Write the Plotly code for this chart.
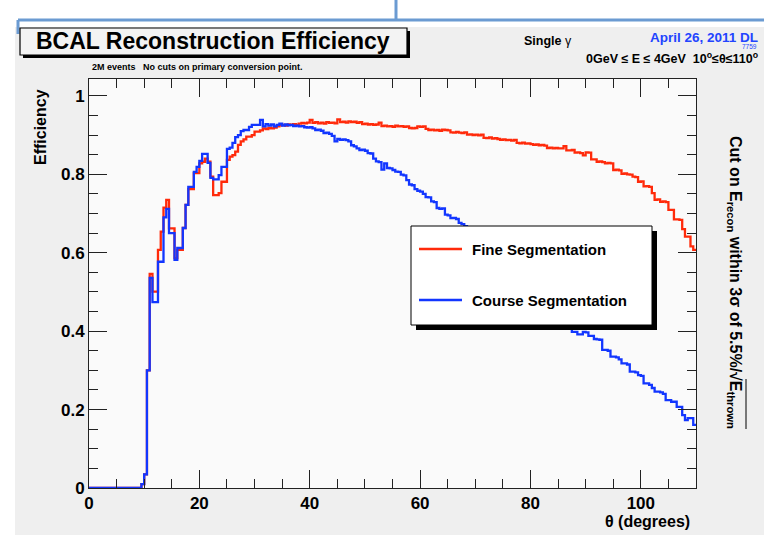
import plotly.graph_objects as go

# ---------------- data (efficiency per 0.5 degree theta bin, 0..110 deg) ----------------
bin_width = 0.5
fine_eff = [
    0, 0, 0, 0, 0, 0, 0, 0, 0, 0,
    0, 0, 0, 0, 0, 0, 0, 0, 0, 0.01,
    0.035, 0.30, 0.546, 0.501, 0.501, 0.607, 0.654, 0.715, 0.735, 0.662,
    0.662, 0.586, 0.607, 0.607, 0.663, 0.722, 0.762, 0.762, 0.803, 0.803,
    0.828, 0.832, 0.840, 0.832, 0.794, 0.747, 0.747, 0.752, 0.781, 0.781,
    0.837, 0.845, 0.849, 0.858, 0.875, 0.884, 0.889, 0.896, 0.896, 0.900,
    0.909, 0.909, 0.912, 0.917, 0.915, 0.918, 0.917, 0.919, 0.922, 0.925,
    0.926, 0.924, 0.927, 0.926, 0.928, 0.926, 0.929, 0.931, 0.930, 0.932,
    0.939, 0.931, 0.933, 0.930, 0.932, 0.929, 0.933, 0.931, 0.932, 0.930,
    0.940, 0.933, 0.934, 0.932, 0.935, 0.933, 0.934, 0.931, 0.933, 0.928,
    0.929, 0.927, 0.928, 0.926, 0.927, 0.932, 0.923, 0.924, 0.922, 0.923,
    0.921, 0.924, 0.922, 0.923, 0.921, 0.922, 0.918, 0.917, 0.918, 0.922,
    0.921, 0.922, 0.916, 0.913, 0.914, 0.912, 0.913, 0.911, 0.914, 0.913,
    0.912, 0.907, 0.906, 0.908, 0.906, 0.905, 0.907, 0.901, 0.902, 0.900,
    0.901, 0.899, 0.901, 0.893, 0.892, 0.894, 0.891, 0.892, 0.890, 0.888,
    0.889, 0.887, 0.888, 0.886, 0.888, 0.880, 0.879, 0.881, 0.878, 0.879,
    0.877, 0.875, 0.876, 0.874, 0.875, 0.873, 0.867, 0.868, 0.866, 0.867,
    0.866, 0.866, 0.872, 0.861, 0.861, 0.862, 0.855, 0.856, 0.854, 0.848,
    0.856, 0.855, 0.838, 0.838, 0.832, 0.833, 0.831, 0.828, 0.829, 0.828,
    0.811, 0.812, 0.810, 0.801, 0.802, 0.800, 0.799, 0.794, 0.793, 0.781,
    0.782, 0.769, 0.770, 0.768, 0.752, 0.735, 0.736, 0.730, 0.731, 0.729,
    0.709, 0.709, 0.685, 0.685, 0.684, 0.660, 0.641, 0.641, 0.616, 0.607,
]
course_eff = [
    0, 0, 0, 0, 0, 0, 0, 0, 0, 0,
    0, 0, 0, 0, 0, 0, 0, 0, 0, 0.01,
    0.035, 0.30, 0.536, 0.474, 0.474, 0.577, 0.577, 0.690, 0.712, 0.650,
    0.650, 0.582, 0.612, 0.612, 0.663, 0.722, 0.768, 0.768, 0.806, 0.819,
    0.834, 0.852, 0.852, 0.829, 0.791, 0.787, 0.787, 0.798, 0.819, 0.819,
    0.865, 0.868, 0.880, 0.895, 0.900, 0.910, 0.913, 0.913, 0.921, 0.926,
    0.926, 0.926, 0.939, 0.922, 0.928, 0.924, 0.927, 0.922, 0.926, 0.929,
    0.924, 0.927, 0.925, 0.926, 0.923, 0.924, 0.922, 0.923, 0.920, 0.919,
    0.920, 0.917, 0.913, 0.914, 0.911, 0.905, 0.906, 0.903, 0.898, 0.884,
    0.890, 0.888, 0.889, 0.887, 0.884, 0.874, 0.871, 0.866, 0.862, 0.863,
    0.860, 0.854, 0.853, 0.840, 0.833, 0.831, 0.812, 0.828, 0.816, 0.815,
    0.811, 0.807, 0.806, 0.799, 0.797, 0.785, 0.774, 0.772, 0.762, 0.758,
    0.756, 0.750, 0.742, 0.741, 0.731, 0.729, 0.714, 0.712, 0.713, 0.697,
    0.695, 0.688, 0.689, 0.686, 0.676, 0.673, 0.668, 0.663, 0.655, 0.651,
    0.642, 0.637, 0.630, 0.622, 0.617, 0.609, 0.603, 0.596, 0.590, 0.582,
    0.577, 0.569, 0.563, 0.556, 0.549, 0.543, 0.536, 0.530, 0.522, 0.516,
    0.509, 0.503, 0.496, 0.489, 0.483, 0.476, 0.469, 0.463, 0.456, 0.449,
    0.443, 0.436, 0.429, 0.423, 0.412, 0.398, 0.398, 0.392, 0.392, 0.398,
    0.397, 0.388, 0.388, 0.380, 0.379, 0.378, 0.352, 0.352, 0.350, 0.335,
    0.335, 0.333, 0.328, 0.318, 0.318, 0.315, 0.297, 0.297, 0.295, 0.288,
    0.286, 0.267, 0.267, 0.263, 0.255, 0.246, 0.246, 0.244, 0.240, 0.224,
    0.224, 0.220, 0.220, 0.207, 0.207, 0.186, 0.173, 0.178, 0.178, 0.161,
]
series_names = ["Fine Segmentation", "Course Segmentation"]
x_tick_vals = [0, 20, 40, 60, 80, 100]
x_tick_text = ["0", "20", "40", "60", "80", "100"]
y_tick_vals = [0, 0.2, 0.4, 0.6, 0.8, 1.0]
y_tick_text = ["0", "0.2", "0.4", "0.6", "0.8", "1"]

RED = "#ff2a0a"
BLUE = "#1236ff"
FONT = "Liberation Sans"

# ---------------- geometry helpers (pixel -> paper) ----------------
W, H = 764, 535
L, R, T, B = 89, 696, 79, 488


def px(xp):
    return (xp - L) / (R - L)


def py(yp):
    return (B - yp) / (B - T)


def step_xy(vals):
    xs = [i * bin_width for i in range(len(vals) + 1)]
    ys = list(vals) + [vals[-1]]
    return xs, ys


fig = go.Figure()
for vals, color, name in [(fine_eff, RED, series_names[0]), (course_eff, BLUE, series_names[1])]:
    xs, ys = step_xy(vals)
    fig.add_trace(go.Scatter(x=xs, y=ys, mode="lines", line=dict(shape="hv", color=color, width=2.3),
                             name=name, showlegend=False, hoverinfo="skip"))

axis_common = dict(
    showline=True, linecolor="#222222", linewidth=1, mirror="ticks",
    ticks="inside", ticklen=18, tickwidth=1, tickcolor="#222222",
    showgrid=False, zeroline=False,
    tickfont=dict(family=FONT, size=17, color="black", weight="bold"),
)
fig.update_xaxes(range=[0, 110], tickvals=x_tick_vals, ticktext=x_tick_text,
                 minor=dict(dtick=5, ticks="inside", ticklen=9, tickcolor="#222222", showgrid=False),
                 **axis_common)
fig.update_yaxes(range=[0, 1.043], tickvals=y_tick_vals, ticktext=y_tick_text,
                 minor=dict(dtick=0.05, ticks="inside", ticklen=9, tickcolor="#222222", showgrid=False),
                 **axis_common)

shapes = []


def rect(x0, y0, x1, y1, fill, line_color=None, lw=0, layer="above"):
    shapes.append(dict(type="rect", xref="paper", yref="paper", x0=px(x0), x1=px(x1), y0=py(y1), y1=py(y0),
                       fillcolor=fill, line=dict(color=line_color or fill, width=lw), layer=layer))


def seg(x0, y0, x1, y1, color, lw):
    shapes.append(dict(type="line", xref="paper", yref="paper", x0=px(x0), x1=px(x1), y0=py(y0), y1=py(y1),
                       line=dict(color=color, width=lw), layer="above"))


# white slide area around the canvas
rect(0, 0, W, 27, "white", layer="below")
rect(0, 0, 15, H, "white", layer="below")
# slide bracket decoration
bracket = "#6b9bd2"
seg(18, 34, 18, 20, bracket, 3)
seg(18, 20, W, 20, bracket, 3)
seg(396, 0, 396, 20, bracket, 3)
# title box with shadow
rect(23, 31, 410, 58, "black")
rect(20, 28, 407, 55, "#f3f3f3", "black", 1.2)
# legend box with shadow
rect(416, 231, 657, 330, "black")
rect(411, 226, 652, 325, "white", "black", 1)
seg(419, 249, 462, 249, RED, 2.3)
seg(419, 300, 462, 300, BLUE, 2.3)
# overline of the square root in the rotated right-hand label
seg(746, 379, 746, 429, "black", 1)
fig.update_layout(shapes=shapes)

ann = []


def text(x, y, s, size, xanchor="left", color="black", angle=0, yanchor="middle"):
    ann.append(dict(xref="paper", yref="paper", x=px(x), y=py(y), text=s, showarrow=False,
                    xanchor=xanchor, yanchor=yanchor, textangle=angle,
                    font=dict(family=FONT, size=size, color=color)))


text(213, 41, "<b>BCAL Reconstruction Efficiency</b>", 23, xanchor="center")
text(90, 67, "<b>2M events   No cuts on primary conversion point.</b>", 9)
text(522, 41, "<b>Single</b> γ", 12.5)
text(760, 38, "<b>April 26, 2011 DL</b>", 13.5, xanchor="right", color="#2244ff")
text(759, 46.5, "7759", 6.5, xanchor="right", color="#2244ff")
text(760, 58, "<b>0GeV ≤ E ≤ 4GeV  10<sup>o</sup>≤θ≤110<sup>o</sup></b>", 12.5, xanchor="right")
text(40, 127, "<b>Efficiency</b>", 16, xanchor="center", angle=-90)
text(692, 521, "<b>θ (degrees)</b>", 16, xanchor="right")
text(735, 282, "<b>Cut on E<sub>recon</sub> within 3σ of 5.5%/√E<sub>thrown</sub></b>", 16,
     xanchor="center", angle=90)
text(470, 249, "<b>" + series_names[0] + "</b>", 15)
text(470, 300, "<b>" + series_names[1] + "</b>", 15)
fig.update_layout(annotations=ann)

fig.update_layout(
    width=W, height=H,
    margin=dict(l=L, r=W - R, t=T, b=H - B, pad=0),
    paper_bgcolor="#efefef", plot_bgcolor="#fafafa",
    font=dict(family=FONT, color="black"),
    showlegend=False,
)

fig.write_html("out.html", config={"displayModeBar": False},
               post_script="document.body.style.margin='0px';document.body.style.overflow='hidden';")
